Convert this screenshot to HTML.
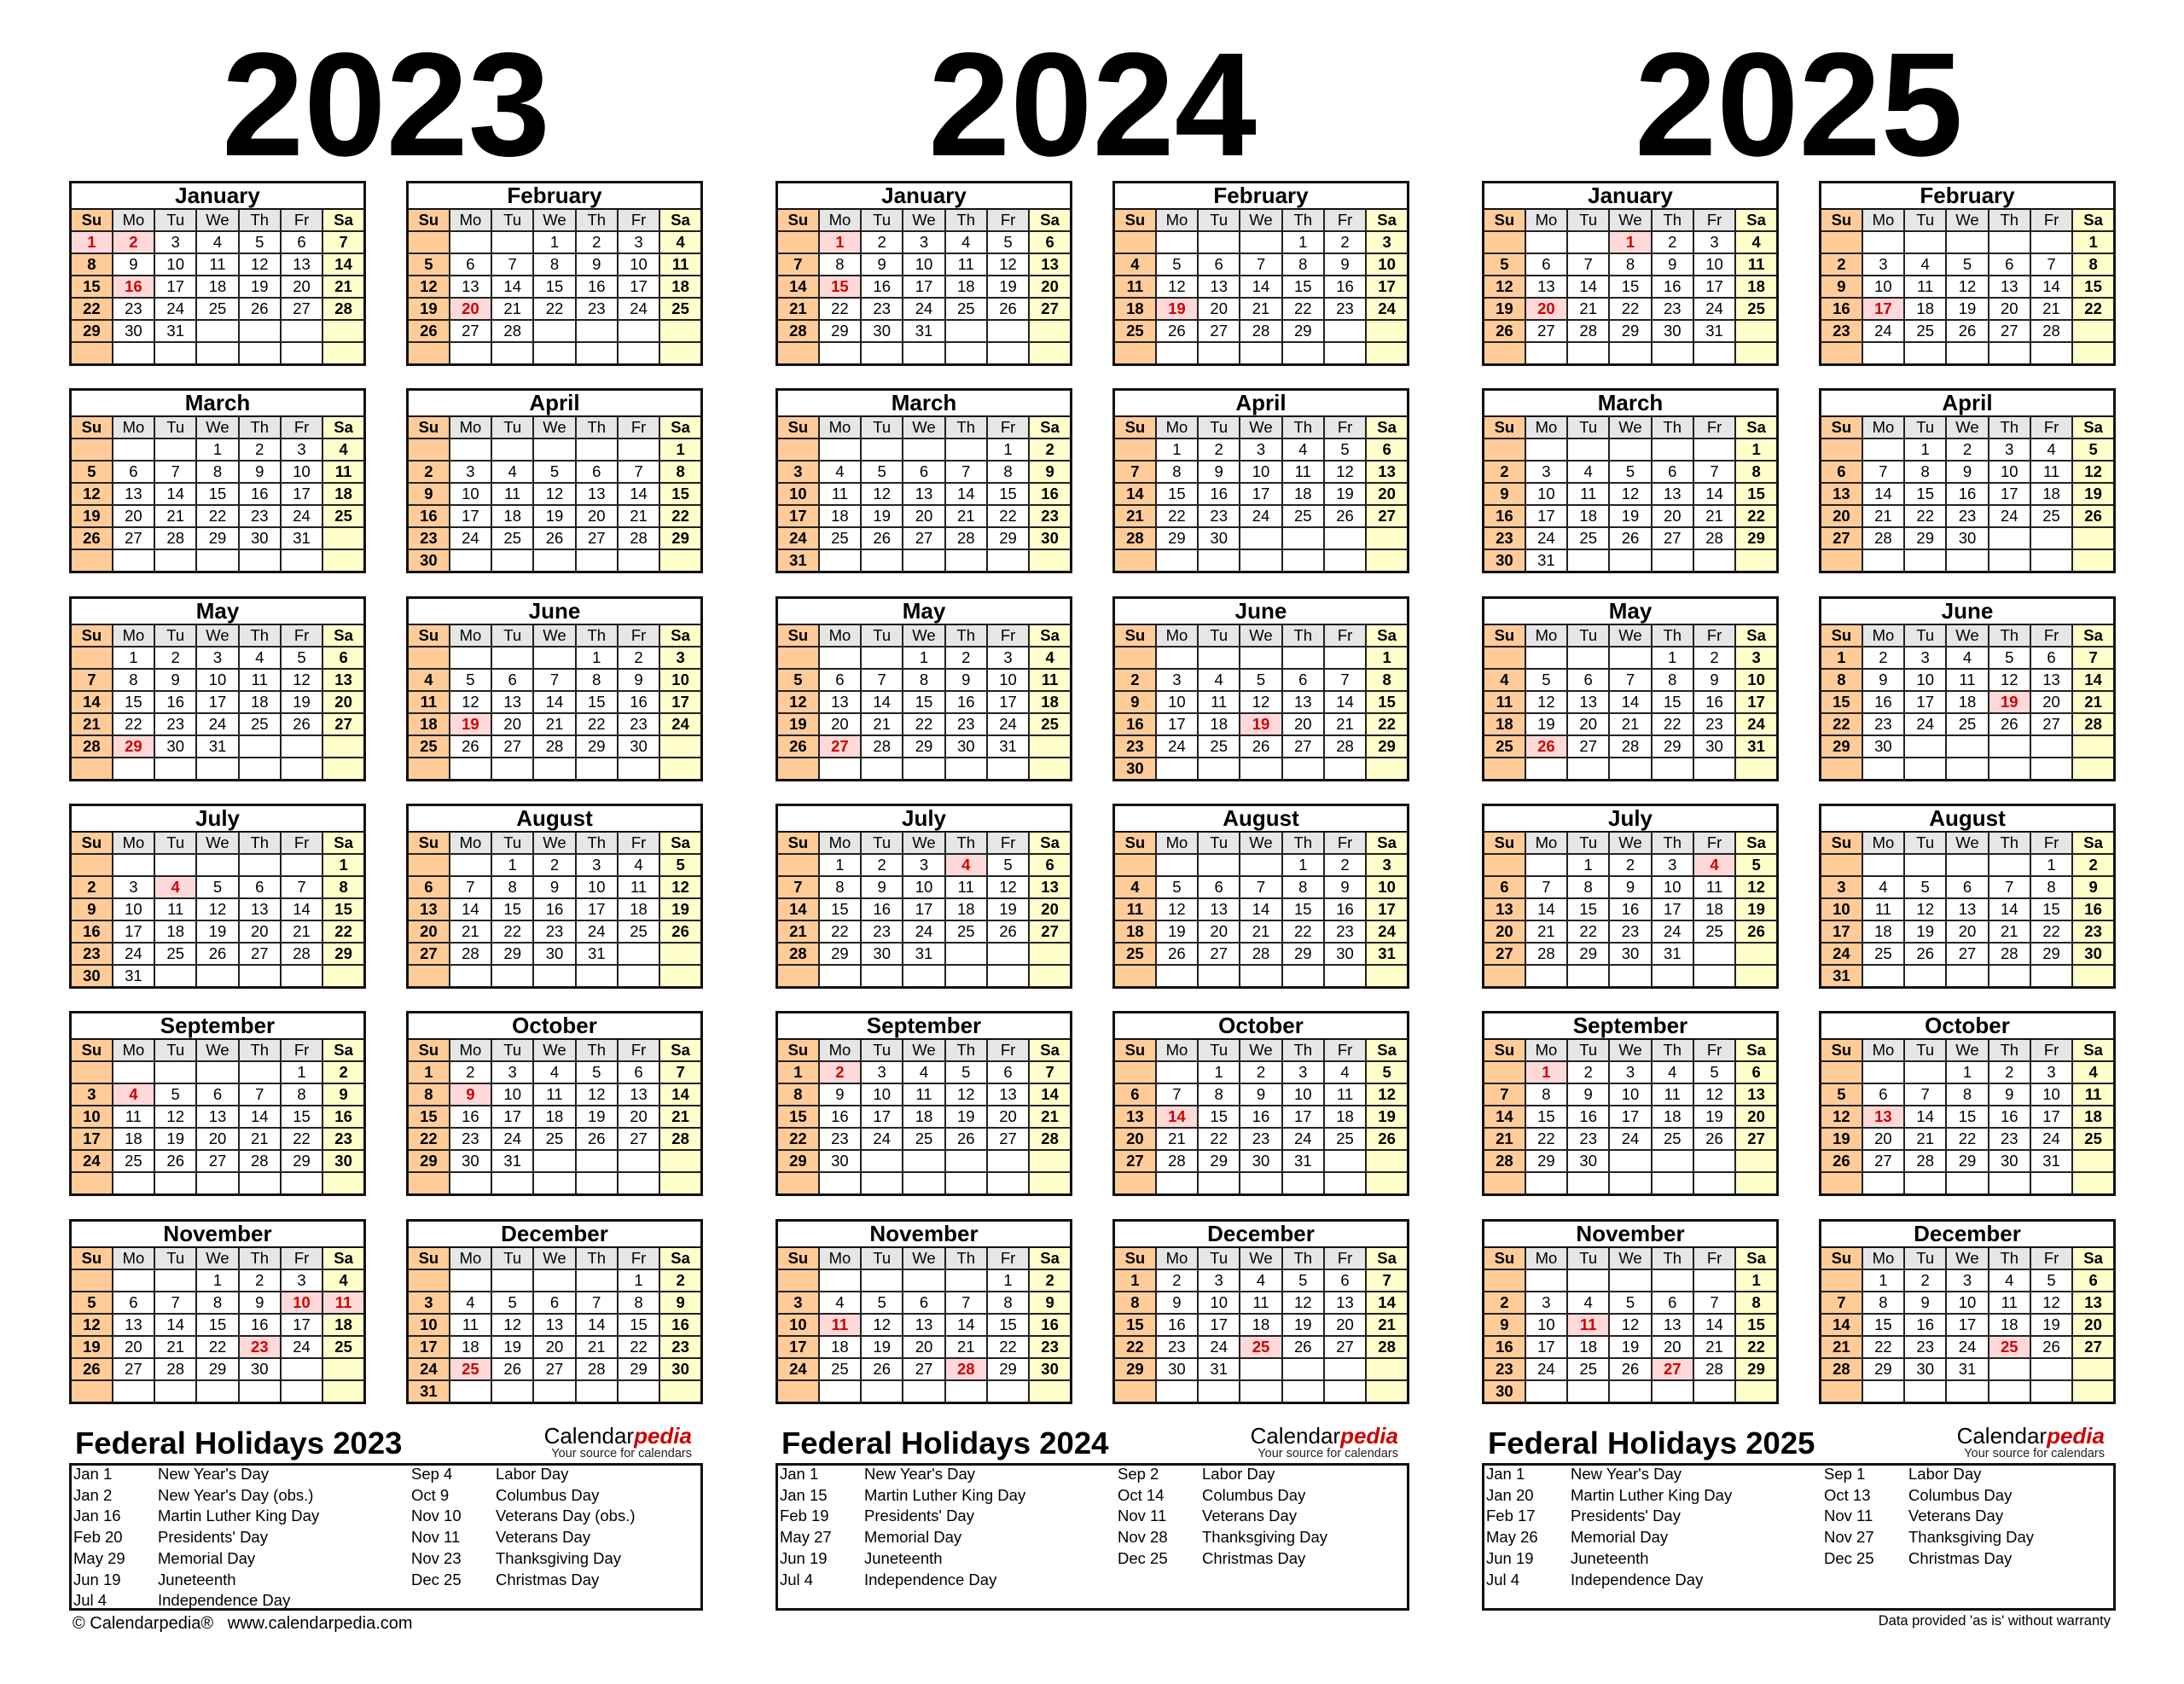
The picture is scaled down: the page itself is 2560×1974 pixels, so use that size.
<!DOCTYPE html>
<html><head><meta charset="utf-8"><style>
*{margin:0;padding:0;box-sizing:border-box}
body{width:2560px;height:1974px;background:#fff;position:relative;font-family:"Liberation Sans",Arial,sans-serif;color:#000;overflow:hidden}
.yr{position:absolute;top:36px;width:743px;text-align:center;font-size:173px;font-weight:bold;line-height:173px}
table{position:absolute;width:348px;height:217px;border-collapse:collapse;table-layout:fixed;border:3px solid #111}
th{height:31px;font-size:26px;font-weight:bold;line-height:26px;border:2px solid #111;background:#fff}
td{height:26px;font-size:18.5px;text-align:center;border:2px solid #222;line-height:20px;padding:0;background:#fff}
tr.w td{background:#e6e6e6}
td:nth-child(1),tr.w td:nth-child(1){background:#ffcc99;font-weight:bold}
td:nth-child(7),tr.w td:nth-child(7){background:#ffffcc;font-weight:bold}
td.h{background:#ffd9d9;color:#d00000;font-weight:bold}
.ft{position:absolute;font-size:36.5px;font-weight:bold;line-height:36px}
.bx{position:absolute;top:1715px;width:743px;height:173px;border:3px solid #111}
.hl{position:absolute;top:1715px;font-size:18.5px;line-height:24.7px;white-space:pre}
.lg{position:absolute;width:300px;text-align:right}
.lg .a{font-size:26px;line-height:26px}
.lg .a b{color:#cc0000;font-style:italic}
.lg .s{font-size:14.5px;line-height:16px;color:#222}
</style></head><body>
<div class="yr" style="left:81px">2023</div>
<div class="yr" style="left:909px">2024</div>
<div class="yr" style="left:1737px">2025</div>

<!-- 2023 -->
<table style="left:81px;top:212px"><tr><th colspan=7>January<tr class=w><td>Su<td>Mo<td>Tu<td>We<td>Th<td>Fr<td>Sa
<tr><td class=h>1<td class=h>2<td>3<td>4<td>5<td>6<td>7<tr><td>8<td>9<td>10<td>11<td>12<td>13<td>14<tr><td>15<td class=h>16<td>17<td>18<td>19<td>20<td>21<tr><td>22<td>23<td>24<td>25<td>26<td>27<td>28<tr><td>29<td>30<td>31<td><td><td><td><tr><td><td><td><td><td><td><td></table>
<table style="left:476px;top:212px"><tr><th colspan=7>February<tr class=w><td>Su<td>Mo<td>Tu<td>We<td>Th<td>Fr<td>Sa
<tr><td><td><td><td>1<td>2<td>3<td>4<tr><td>5<td>6<td>7<td>8<td>9<td>10<td>11<tr><td>12<td>13<td>14<td>15<td>16<td>17<td>18<tr><td>19<td class=h>20<td>21<td>22<td>23<td>24<td>25<tr><td>26<td>27<td>28<td><td><td><td><tr><td><td><td><td><td><td><td></table>
<table style="left:81px;top:455px"><tr><th colspan=7>March<tr class=w><td>Su<td>Mo<td>Tu<td>We<td>Th<td>Fr<td>Sa
<tr><td><td><td><td>1<td>2<td>3<td>4<tr><td>5<td>6<td>7<td>8<td>9<td>10<td>11<tr><td>12<td>13<td>14<td>15<td>16<td>17<td>18<tr><td>19<td>20<td>21<td>22<td>23<td>24<td>25<tr><td>26<td>27<td>28<td>29<td>30<td>31<td><tr><td><td><td><td><td><td><td></table>
<table style="left:476px;top:455px"><tr><th colspan=7>April<tr class=w><td>Su<td>Mo<td>Tu<td>We<td>Th<td>Fr<td>Sa
<tr><td><td><td><td><td><td><td>1<tr><td>2<td>3<td>4<td>5<td>6<td>7<td>8<tr><td>9<td>10<td>11<td>12<td>13<td>14<td>15<tr><td>16<td>17<td>18<td>19<td>20<td>21<td>22<tr><td>23<td>24<td>25<td>26<td>27<td>28<td>29<tr><td>30<td><td><td><td><td><td></table>
<table style="left:81px;top:699px"><tr><th colspan=7>May<tr class=w><td>Su<td>Mo<td>Tu<td>We<td>Th<td>Fr<td>Sa
<tr><td><td>1<td>2<td>3<td>4<td>5<td>6<tr><td>7<td>8<td>9<td>10<td>11<td>12<td>13<tr><td>14<td>15<td>16<td>17<td>18<td>19<td>20<tr><td>21<td>22<td>23<td>24<td>25<td>26<td>27<tr><td>28<td class=h>29<td>30<td>31<td><td><td><tr><td><td><td><td><td><td><td></table>
<table style="left:476px;top:699px"><tr><th colspan=7>June<tr class=w><td>Su<td>Mo<td>Tu<td>We<td>Th<td>Fr<td>Sa
<tr><td><td><td><td><td>1<td>2<td>3<tr><td>4<td>5<td>6<td>7<td>8<td>9<td>10<tr><td>11<td>12<td>13<td>14<td>15<td>16<td>17<tr><td>18<td class=h>19<td>20<td>21<td>22<td>23<td>24<tr><td>25<td>26<td>27<td>28<td>29<td>30<td><tr><td><td><td><td><td><td><td></table>
<table style="left:81px;top:942px"><tr><th colspan=7>July<tr class=w><td>Su<td>Mo<td>Tu<td>We<td>Th<td>Fr<td>Sa
<tr><td><td><td><td><td><td><td>1<tr><td>2<td>3<td class=h>4<td>5<td>6<td>7<td>8<tr><td>9<td>10<td>11<td>12<td>13<td>14<td>15<tr><td>16<td>17<td>18<td>19<td>20<td>21<td>22<tr><td>23<td>24<td>25<td>26<td>27<td>28<td>29<tr><td>30<td>31<td><td><td><td><td></table>
<table style="left:476px;top:942px"><tr><th colspan=7>August<tr class=w><td>Su<td>Mo<td>Tu<td>We<td>Th<td>Fr<td>Sa
<tr><td><td><td>1<td>2<td>3<td>4<td>5<tr><td>6<td>7<td>8<td>9<td>10<td>11<td>12<tr><td>13<td>14<td>15<td>16<td>17<td>18<td>19<tr><td>20<td>21<td>22<td>23<td>24<td>25<td>26<tr><td>27<td>28<td>29<td>30<td>31<td><td><tr><td><td><td><td><td><td><td></table>
<table style="left:81px;top:1185px"><tr><th colspan=7>September<tr class=w><td>Su<td>Mo<td>Tu<td>We<td>Th<td>Fr<td>Sa
<tr><td><td><td><td><td><td>1<td>2<tr><td>3<td class=h>4<td>5<td>6<td>7<td>8<td>9<tr><td>10<td>11<td>12<td>13<td>14<td>15<td>16<tr><td>17<td>18<td>19<td>20<td>21<td>22<td>23<tr><td>24<td>25<td>26<td>27<td>28<td>29<td>30<tr><td><td><td><td><td><td><td></table>
<table style="left:476px;top:1185px"><tr><th colspan=7>October<tr class=w><td>Su<td>Mo<td>Tu<td>We<td>Th<td>Fr<td>Sa
<tr><td>1<td>2<td>3<td>4<td>5<td>6<td>7<tr><td>8<td class=h>9<td>10<td>11<td>12<td>13<td>14<tr><td>15<td>16<td>17<td>18<td>19<td>20<td>21<tr><td>22<td>23<td>24<td>25<td>26<td>27<td>28<tr><td>29<td>30<td>31<td><td><td><td><tr><td><td><td><td><td><td><td></table>
<table style="left:81px;top:1429px"><tr><th colspan=7>November<tr class=w><td>Su<td>Mo<td>Tu<td>We<td>Th<td>Fr<td>Sa
<tr><td><td><td><td>1<td>2<td>3<td>4<tr><td>5<td>6<td>7<td>8<td>9<td class=h>10<td class=h>11<tr><td>12<td>13<td>14<td>15<td>16<td>17<td>18<tr><td>19<td>20<td>21<td>22<td class=h>23<td>24<td>25<tr><td>26<td>27<td>28<td>29<td>30<td><td><tr><td><td><td><td><td><td><td></table>
<table style="left:476px;top:1429px"><tr><th colspan=7>December<tr class=w><td>Su<td>Mo<td>Tu<td>We<td>Th<td>Fr<td>Sa
<tr><td><td><td><td><td><td>1<td>2<tr><td>3<td>4<td>5<td>6<td>7<td>8<td>9<tr><td>10<td>11<td>12<td>13<td>14<td>15<td>16<tr><td>17<td>18<td>19<td>20<td>21<td>22<td>23<tr><td>24<td class=h>25<td>26<td>27<td>28<td>29<td>30<tr><td>31<td><td><td><td><td><td></table>

<!-- 2024 -->
<table style="left:909px;top:212px"><tr><th colspan=7>January<tr class=w><td>Su<td>Mo<td>Tu<td>We<td>Th<td>Fr<td>Sa
<tr><td><td class=h>1<td>2<td>3<td>4<td>5<td>6<tr><td>7<td>8<td>9<td>10<td>11<td>12<td>13<tr><td>14<td class=h>15<td>16<td>17<td>18<td>19<td>20<tr><td>21<td>22<td>23<td>24<td>25<td>26<td>27<tr><td>28<td>29<td>30<td>31<td><td><td><tr><td><td><td><td><td><td><td></table>
<table style="left:1304px;top:212px"><tr><th colspan=7>February<tr class=w><td>Su<td>Mo<td>Tu<td>We<td>Th<td>Fr<td>Sa
<tr><td><td><td><td><td>1<td>2<td>3<tr><td>4<td>5<td>6<td>7<td>8<td>9<td>10<tr><td>11<td>12<td>13<td>14<td>15<td>16<td>17<tr><td>18<td class=h>19<td>20<td>21<td>22<td>23<td>24<tr><td>25<td>26<td>27<td>28<td>29<td><td><tr><td><td><td><td><td><td><td></table>
<table style="left:909px;top:455px"><tr><th colspan=7>March<tr class=w><td>Su<td>Mo<td>Tu<td>We<td>Th<td>Fr<td>Sa
<tr><td><td><td><td><td><td>1<td>2<tr><td>3<td>4<td>5<td>6<td>7<td>8<td>9<tr><td>10<td>11<td>12<td>13<td>14<td>15<td>16<tr><td>17<td>18<td>19<td>20<td>21<td>22<td>23<tr><td>24<td>25<td>26<td>27<td>28<td>29<td>30<tr><td>31<td><td><td><td><td><td></table>
<table style="left:1304px;top:455px"><tr><th colspan=7>April<tr class=w><td>Su<td>Mo<td>Tu<td>We<td>Th<td>Fr<td>Sa
<tr><td><td>1<td>2<td>3<td>4<td>5<td>6<tr><td>7<td>8<td>9<td>10<td>11<td>12<td>13<tr><td>14<td>15<td>16<td>17<td>18<td>19<td>20<tr><td>21<td>22<td>23<td>24<td>25<td>26<td>27<tr><td>28<td>29<td>30<td><td><td><td><tr><td><td><td><td><td><td><td></table>
<table style="left:909px;top:699px"><tr><th colspan=7>May<tr class=w><td>Su<td>Mo<td>Tu<td>We<td>Th<td>Fr<td>Sa
<tr><td><td><td><td>1<td>2<td>3<td>4<tr><td>5<td>6<td>7<td>8<td>9<td>10<td>11<tr><td>12<td>13<td>14<td>15<td>16<td>17<td>18<tr><td>19<td>20<td>21<td>22<td>23<td>24<td>25<tr><td>26<td class=h>27<td>28<td>29<td>30<td>31<td><tr><td><td><td><td><td><td><td></table>
<table style="left:1304px;top:699px"><tr><th colspan=7>June<tr class=w><td>Su<td>Mo<td>Tu<td>We<td>Th<td>Fr<td>Sa
<tr><td><td><td><td><td><td><td>1<tr><td>2<td>3<td>4<td>5<td>6<td>7<td>8<tr><td>9<td>10<td>11<td>12<td>13<td>14<td>15<tr><td>16<td>17<td>18<td class=h>19<td>20<td>21<td>22<tr><td>23<td>24<td>25<td>26<td>27<td>28<td>29<tr><td>30<td><td><td><td><td><td></table>
<table style="left:909px;top:942px"><tr><th colspan=7>July<tr class=w><td>Su<td>Mo<td>Tu<td>We<td>Th<td>Fr<td>Sa
<tr><td><td>1<td>2<td>3<td class=h>4<td>5<td>6<tr><td>7<td>8<td>9<td>10<td>11<td>12<td>13<tr><td>14<td>15<td>16<td>17<td>18<td>19<td>20<tr><td>21<td>22<td>23<td>24<td>25<td>26<td>27<tr><td>28<td>29<td>30<td>31<td><td><td><tr><td><td><td><td><td><td><td></table>
<table style="left:1304px;top:942px"><tr><th colspan=7>August<tr class=w><td>Su<td>Mo<td>Tu<td>We<td>Th<td>Fr<td>Sa
<tr><td><td><td><td><td>1<td>2<td>3<tr><td>4<td>5<td>6<td>7<td>8<td>9<td>10<tr><td>11<td>12<td>13<td>14<td>15<td>16<td>17<tr><td>18<td>19<td>20<td>21<td>22<td>23<td>24<tr><td>25<td>26<td>27<td>28<td>29<td>30<td>31<tr><td><td><td><td><td><td><td></table>
<table style="left:909px;top:1185px"><tr><th colspan=7>September<tr class=w><td>Su<td>Mo<td>Tu<td>We<td>Th<td>Fr<td>Sa
<tr><td>1<td class=h>2<td>3<td>4<td>5<td>6<td>7<tr><td>8<td>9<td>10<td>11<td>12<td>13<td>14<tr><td>15<td>16<td>17<td>18<td>19<td>20<td>21<tr><td>22<td>23<td>24<td>25<td>26<td>27<td>28<tr><td>29<td>30<td><td><td><td><td><tr><td><td><td><td><td><td><td></table>
<table style="left:1304px;top:1185px"><tr><th colspan=7>October<tr class=w><td>Su<td>Mo<td>Tu<td>We<td>Th<td>Fr<td>Sa
<tr><td><td><td>1<td>2<td>3<td>4<td>5<tr><td>6<td>7<td>8<td>9<td>10<td>11<td>12<tr><td>13<td class=h>14<td>15<td>16<td>17<td>18<td>19<tr><td>20<td>21<td>22<td>23<td>24<td>25<td>26<tr><td>27<td>28<td>29<td>30<td>31<td><td><tr><td><td><td><td><td><td><td></table>
<table style="left:909px;top:1429px"><tr><th colspan=7>November<tr class=w><td>Su<td>Mo<td>Tu<td>We<td>Th<td>Fr<td>Sa
<tr><td><td><td><td><td><td>1<td>2<tr><td>3<td>4<td>5<td>6<td>7<td>8<td>9<tr><td>10<td class=h>11<td>12<td>13<td>14<td>15<td>16<tr><td>17<td>18<td>19<td>20<td>21<td>22<td>23<tr><td>24<td>25<td>26<td>27<td class=h>28<td>29<td>30<tr><td><td><td><td><td><td><td></table>
<table style="left:1304px;top:1429px"><tr><th colspan=7>December<tr class=w><td>Su<td>Mo<td>Tu<td>We<td>Th<td>Fr<td>Sa
<tr><td>1<td>2<td>3<td>4<td>5<td>6<td>7<tr><td>8<td>9<td>10<td>11<td>12<td>13<td>14<tr><td>15<td>16<td>17<td>18<td>19<td>20<td>21<tr><td>22<td>23<td>24<td class=h>25<td>26<td>27<td>28<tr><td>29<td>30<td>31<td><td><td><td><tr><td><td><td><td><td><td><td></table>

<!-- 2025 -->
<table style="left:1737px;top:212px"><tr><th colspan=7>January<tr class=w><td>Su<td>Mo<td>Tu<td>We<td>Th<td>Fr<td>Sa
<tr><td><td><td><td class=h>1<td>2<td>3<td>4<tr><td>5<td>6<td>7<td>8<td>9<td>10<td>11<tr><td>12<td>13<td>14<td>15<td>16<td>17<td>18<tr><td>19<td class=h>20<td>21<td>22<td>23<td>24<td>25<tr><td>26<td>27<td>28<td>29<td>30<td>31<td><tr><td><td><td><td><td><td><td></table>
<table style="left:2132px;top:212px"><tr><th colspan=7>February<tr class=w><td>Su<td>Mo<td>Tu<td>We<td>Th<td>Fr<td>Sa
<tr><td><td><td><td><td><td><td>1<tr><td>2<td>3<td>4<td>5<td>6<td>7<td>8<tr><td>9<td>10<td>11<td>12<td>13<td>14<td>15<tr><td>16<td class=h>17<td>18<td>19<td>20<td>21<td>22<tr><td>23<td>24<td>25<td>26<td>27<td>28<td><tr><td><td><td><td><td><td><td></table>
<table style="left:1737px;top:455px"><tr><th colspan=7>March<tr class=w><td>Su<td>Mo<td>Tu<td>We<td>Th<td>Fr<td>Sa
<tr><td><td><td><td><td><td><td>1<tr><td>2<td>3<td>4<td>5<td>6<td>7<td>8<tr><td>9<td>10<td>11<td>12<td>13<td>14<td>15<tr><td>16<td>17<td>18<td>19<td>20<td>21<td>22<tr><td>23<td>24<td>25<td>26<td>27<td>28<td>29<tr><td>30<td>31<td><td><td><td><td></table>
<table style="left:2132px;top:455px"><tr><th colspan=7>April<tr class=w><td>Su<td>Mo<td>Tu<td>We<td>Th<td>Fr<td>Sa
<tr><td><td><td>1<td>2<td>3<td>4<td>5<tr><td>6<td>7<td>8<td>9<td>10<td>11<td>12<tr><td>13<td>14<td>15<td>16<td>17<td>18<td>19<tr><td>20<td>21<td>22<td>23<td>24<td>25<td>26<tr><td>27<td>28<td>29<td>30<td><td><td><tr><td><td><td><td><td><td><td></table>
<table style="left:1737px;top:699px"><tr><th colspan=7>May<tr class=w><td>Su<td>Mo<td>Tu<td>We<td>Th<td>Fr<td>Sa
<tr><td><td><td><td><td>1<td>2<td>3<tr><td>4<td>5<td>6<td>7<td>8<td>9<td>10<tr><td>11<td>12<td>13<td>14<td>15<td>16<td>17<tr><td>18<td>19<td>20<td>21<td>22<td>23<td>24<tr><td>25<td class=h>26<td>27<td>28<td>29<td>30<td>31<tr><td><td><td><td><td><td><td></table>
<table style="left:2132px;top:699px"><tr><th colspan=7>June<tr class=w><td>Su<td>Mo<td>Tu<td>We<td>Th<td>Fr<td>Sa
<tr><td>1<td>2<td>3<td>4<td>5<td>6<td>7<tr><td>8<td>9<td>10<td>11<td>12<td>13<td>14<tr><td>15<td>16<td>17<td>18<td class=h>19<td>20<td>21<tr><td>22<td>23<td>24<td>25<td>26<td>27<td>28<tr><td>29<td>30<td><td><td><td><td><tr><td><td><td><td><td><td><td></table>
<table style="left:1737px;top:942px"><tr><th colspan=7>July<tr class=w><td>Su<td>Mo<td>Tu<td>We<td>Th<td>Fr<td>Sa
<tr><td><td><td>1<td>2<td>3<td class=h>4<td>5<tr><td>6<td>7<td>8<td>9<td>10<td>11<td>12<tr><td>13<td>14<td>15<td>16<td>17<td>18<td>19<tr><td>20<td>21<td>22<td>23<td>24<td>25<td>26<tr><td>27<td>28<td>29<td>30<td>31<td><td><tr><td><td><td><td><td><td><td></table>
<table style="left:2132px;top:942px"><tr><th colspan=7>August<tr class=w><td>Su<td>Mo<td>Tu<td>We<td>Th<td>Fr<td>Sa
<tr><td><td><td><td><td><td>1<td>2<tr><td>3<td>4<td>5<td>6<td>7<td>8<td>9<tr><td>10<td>11<td>12<td>13<td>14<td>15<td>16<tr><td>17<td>18<td>19<td>20<td>21<td>22<td>23<tr><td>24<td>25<td>26<td>27<td>28<td>29<td>30<tr><td>31<td><td><td><td><td><td></table>
<table style="left:1737px;top:1185px"><tr><th colspan=7>September<tr class=w><td>Su<td>Mo<td>Tu<td>We<td>Th<td>Fr<td>Sa
<tr><td><td class=h>1<td>2<td>3<td>4<td>5<td>6<tr><td>7<td>8<td>9<td>10<td>11<td>12<td>13<tr><td>14<td>15<td>16<td>17<td>18<td>19<td>20<tr><td>21<td>22<td>23<td>24<td>25<td>26<td>27<tr><td>28<td>29<td>30<td><td><td><td><tr><td><td><td><td><td><td><td></table>
<table style="left:2132px;top:1185px"><tr><th colspan=7>October<tr class=w><td>Su<td>Mo<td>Tu<td>We<td>Th<td>Fr<td>Sa
<tr><td><td><td><td>1<td>2<td>3<td>4<tr><td>5<td>6<td>7<td>8<td>9<td>10<td>11<tr><td>12<td class=h>13<td>14<td>15<td>16<td>17<td>18<tr><td>19<td>20<td>21<td>22<td>23<td>24<td>25<tr><td>26<td>27<td>28<td>29<td>30<td>31<td><tr><td><td><td><td><td><td><td></table>
<table style="left:1737px;top:1429px"><tr><th colspan=7>November<tr class=w><td>Su<td>Mo<td>Tu<td>We<td>Th<td>Fr<td>Sa
<tr><td><td><td><td><td><td><td>1<tr><td>2<td>3<td>4<td>5<td>6<td>7<td>8<tr><td>9<td>10<td class=h>11<td>12<td>13<td>14<td>15<tr><td>16<td>17<td>18<td>19<td>20<td>21<td>22<tr><td>23<td>24<td>25<td>26<td class=h>27<td>28<td>29<tr><td>30<td><td><td><td><td><td></table>
<table style="left:2132px;top:1429px"><tr><th colspan=7>December<tr class=w><td>Su<td>Mo<td>Tu<td>We<td>Th<td>Fr<td>Sa
<tr><td><td>1<td>2<td>3<td>4<td>5<td>6<tr><td>7<td>8<td>9<td>10<td>11<td>12<td>13<tr><td>14<td>15<td>16<td>17<td>18<td>19<td>20<tr><td>21<td>22<td>23<td>24<td class=h>25<td>26<td>27<tr><td>28<td>29<td>30<td>31<td><td><td><tr><td><td><td><td><td><td><td></table>

<!-- Holidays -->
<div class="ft" style="left:88px;top:1674px">Federal Holidays 2023</div>
<div class="ft" style="left:916px;top:1674px">Federal Holidays 2024</div>
<div class="ft" style="left:1744px;top:1674px">Federal Holidays 2025</div>

<div class="lg" style="left:511px;top:1670px"><div class="a">Calendar<b>pedia</b></div><div class="s">Your source for calendars</div></div>
<div class="lg" style="left:1339px;top:1670px"><div class="a">Calendar<b>pedia</b></div><div class="s">Your source for calendars</div></div>
<div class="lg" style="left:2167px;top:1670px"><div class="a">Calendar<b>pedia</b></div><div class="s">Your source for calendars</div></div>

<div class="bx" style="left:81px"></div>
<div class="bx" style="left:909px"></div>
<div class="bx" style="left:1737px"></div>

<div class="hl" style="left:86px;top:1716px">Jan 1
Jan 2
Jan 16
Feb 20
May 29
Jun 19
Jul 4</div>
<div class="hl" style="left:185px;top:1716px">New Year's Day
New Year's Day (obs.)
Martin Luther King Day
Presidents' Day
Memorial Day
Juneteenth
Independence Day</div>
<div class="hl" style="left:482px;top:1716px">Sep 4
Oct 9
Nov 10
Nov 11
Nov 23
Dec 25</div>
<div class="hl" style="left:581px;top:1716px">Labor Day
Columbus Day
Veterans Day (obs.)
Veterans Day
Thanksgiving Day
Christmas Day</div>

<div class="hl" style="left:914px;top:1716px">Jan 1
Jan 15
Feb 19
May 27
Jun 19
Jul 4</div>
<div class="hl" style="left:1013px;top:1716px">New Year's Day
Martin Luther King Day
Presidents' Day
Memorial Day
Juneteenth
Independence Day</div>
<div class="hl" style="left:1310px;top:1716px">Sep 2
Oct 14
Nov 11
Nov 28
Dec 25</div>
<div class="hl" style="left:1409px;top:1716px">Labor Day
Columbus Day
Veterans Day
Thanksgiving Day
Christmas Day</div>

<div class="hl" style="left:1742px;top:1716px">Jan 1
Jan 20
Feb 17
May 26
Jun 19
Jul 4</div>
<div class="hl" style="left:1841px;top:1716px">New Year's Day
Martin Luther King Day
Presidents' Day
Memorial Day
Juneteenth
Independence Day</div>
<div class="hl" style="left:2138px;top:1716px">Sep 1
Oct 13
Nov 11
Nov 27
Dec 25</div>
<div class="hl" style="left:2237px;top:1716px">Labor Day
Columbus Day
Veterans Day
Thanksgiving Day
Christmas Day</div>

<div style="position:absolute;left:85px;top:1892px;font-size:20px;line-height:22px;white-space:pre">© Calendarpedia®   www.calendarpedia.com</div>
<div style="position:absolute;left:2074px;width:400px;text-align:right;top:1890px;font-size:16.5px;line-height:20px">Data provided 'as is' without warranty</div>
</body></html>
